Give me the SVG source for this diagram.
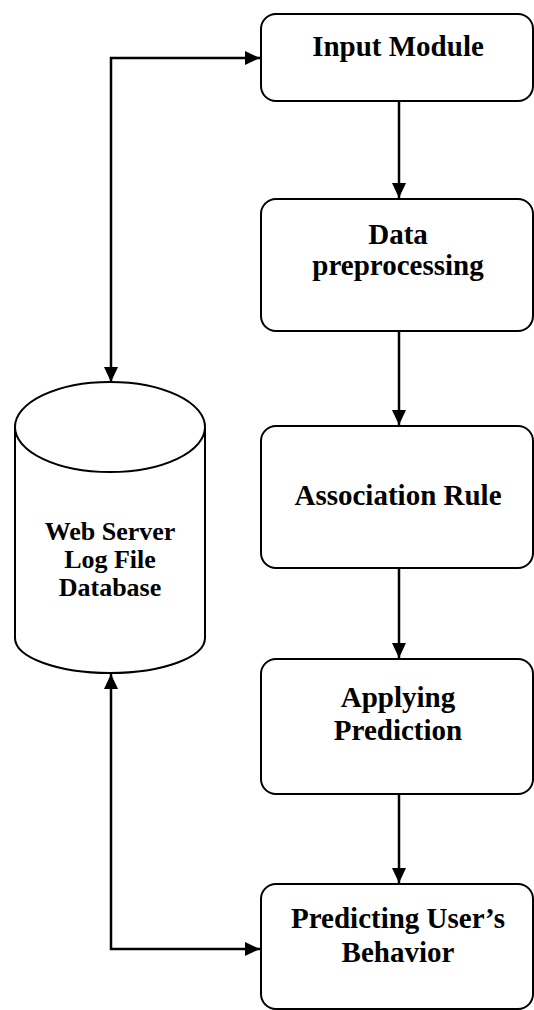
<svg xmlns="http://www.w3.org/2000/svg" width="534" height="1010" viewBox="0 0 534 1010">
  <style>
    .box { fill: #ffffff; stroke: #000000; stroke-width: 2; }
    .cyl { fill: #ffffff; stroke: #000000; stroke-width: 2; }
    .lbl { font-family: "Liberation Serif", "Times New Roman", serif; font-weight: bold; font-size: 29px; fill: #000000; text-anchor: middle; }
    .db { font-size: 26px; }
    .edge { fill: none; stroke: #000000; stroke-width: 2.5; }
  </style>
  <defs>
    <marker id="arrow" viewBox="0 0 15 14" refX="15" refY="7" markerWidth="15" markerHeight="14" markerUnits="userSpaceOnUse" orient="auto-start-reverse">
      <path d="M0,0 L15,7 L0,14 Z" fill="#000000"/>
    </marker>
  </defs>
  <rect width="534" height="1010" fill="#ffffff"/>

  <g id="connectors">
    <line class="edge" x1="399" y1="101" x2="399" y2="198" marker-end="url(#arrow)"/>
    <line class="edge" x1="399" y1="331" x2="399" y2="425" marker-end="url(#arrow)"/>
    <line class="edge" x1="399" y1="568" x2="399" y2="658" marker-end="url(#arrow)"/>
    <line class="edge" x1="399" y1="794" x2="399" y2="883" marker-end="url(#arrow)"/>
    <path class="edge" d="M111,382 L111,58 L260,58" marker-start="url(#arrow)" marker-end="url(#arrow)"/>
    <path class="edge" d="M111,674 L111,949 L260,949" marker-start="url(#arrow)" marker-end="url(#arrow)"/>
  </g>

  <g id="database">
    <path class="cyl" d="M15,427 L15,638 A95,35 0 0 0 205,638 L205,427"/>
    <ellipse class="cyl" cx="110" cy="427" rx="95" ry="45"/>
    <text class="lbl db" x="110" y="540">Web Server</text>
    <text class="lbl db" x="110" y="568">Log File</text>
    <text class="lbl db" x="110" y="596">Database</text>
  </g>

  <g id="input-module">
    <rect class="box" x="261" y="14" width="272" height="87" rx="15" ry="15"/>
    <text class="lbl" x="398" y="56">Input Module</text>
  </g>

  <g id="data-preprocessing">
    <rect class="box" x="261" y="199" width="272" height="132" rx="15" ry="15"/>
    <text class="lbl" x="398" y="244">Data</text>
    <text class="lbl" x="398" y="275">preprocessing</text>
  </g>

  <g id="association-rule">
    <rect class="box" x="261" y="426" width="272" height="142" rx="15" ry="15"/>
    <text class="lbl" x="398" y="505">Association Rule</text>
  </g>

  <g id="applying-prediction">
    <rect class="box" x="261" y="659" width="272" height="135" rx="15" ry="15"/>
    <text class="lbl" x="398" y="707">Applying</text>
    <text class="lbl" x="398" y="740">Prediction</text>
  </g>

  <g id="predicting-behavior">
    <rect class="box" x="261" y="884" width="272" height="125" rx="15" ry="15"/>
    <text class="lbl" x="398" y="928">Predicting User’s</text>
    <text class="lbl" x="398" y="962">Behavior</text>
  </g>
</svg>
